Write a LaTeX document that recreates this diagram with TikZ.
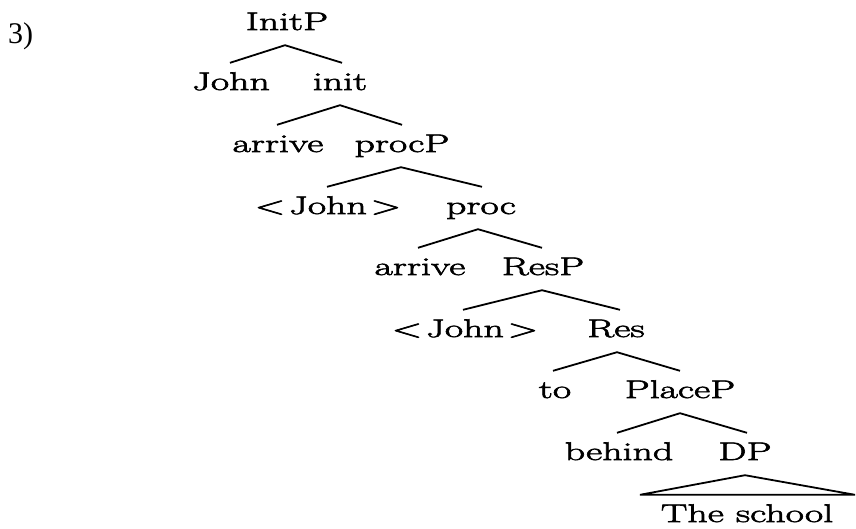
\documentclass[tikz,border=0pt]{standalone}
\usepackage{fontspec}
\newfontfamily\treefont[FakeStretch=1.56,FakeBold=2.5]{Latin Modern Roman}
\newfontfamily\numfont{Liberation Serif}
\newcommand\trace[1]{<\kern4pt #1\kern4pt >}
\begin{document}
\begin{tikzpicture}[x=1pt,y=-1pt,
  lbl/.style={font=\treefont\fontsize{25.5}{30}\selectfont, inner sep=0pt,
    text height=27pt, text depth=15pt, anchor=base},
  branch/.style={line width=1.8pt, line join=miter}]
\useasboundingbox (0,0) rectangle (856,528);

% example number
\node[font=\numfont\fontsize{30}{34}\selectfont, anchor=base west, inner sep=0pt] (num) at (8,43) {3)};

% labels of the tree, one row per level
\node[lbl] (InitP)  at (287,30)  {InitP};
\node[lbl] (John)   at (231,90)  {John};
\node[lbl] (init)   at (340,90)  {init};
\node[lbl] (arriveA) at (278,152) {arrive};
\node[lbl] (procP)  at (402,152) {procP};
\node[lbl] (JohnA)  at (328,214) {\trace{John}};
\node[lbl] (proc)   at (481,214) {proc};
\node[lbl] (arriveB) at (420,275) {arrive};
\node[lbl] (ResP)   at (543,275) {ResP};
\node[lbl] (JohnB)  at (465,337) {\trace{John}};
\node[lbl] (Res)    at (616,337) {Res};
\node[lbl] (to)     at (555,398) {to};
\node[lbl] (PlaceP) at (680,398) {PlaceP};
\node[lbl] (behind) at (619,460) {behind};
\node[lbl] (DP)     at (745,460) {DP};
\node[lbl] (school) at (747,522) {The school};

% branches
\draw[branch] ([xshift=-1pt]John.north) -- ([xshift=-2pt]InitP.south) -- ([xshift=2pt]init.north);
\draw[branch] ([xshift=-1pt]arriveA.north) -- (init.south) -- (procP.north);
\draw[branch] ([xshift=-1pt]JohnA.north) -- ([xshift=-1pt]procP.south) -- ([xshift=1pt]proc.north);
\draw[branch] ([xshift=-2pt]arriveB.north) -- ([xshift=-3pt]proc.south) -- ([xshift=-1pt]ResP.north);
\draw[branch] ([xshift=-2pt]JohnB.north) -- ([xshift=-1pt]ResP.south) -- ([xshift=4pt]Res.north);
\draw[branch] ([xshift=-2pt]to.north) -- ([xshift=1pt]Res.south) -- (PlaceP.north);
\draw[branch] ([xshift=-2pt]behind.north) -- (PlaceP.south) -- ([xshift=2pt]DP.north);
% triangle over the unanalysed DP
\draw[branch] ([xshift=-107pt]school.north) -- (DP.south) -- ([xshift=108pt]school.north) -- cycle;
\end{tikzpicture}
\end{document}
